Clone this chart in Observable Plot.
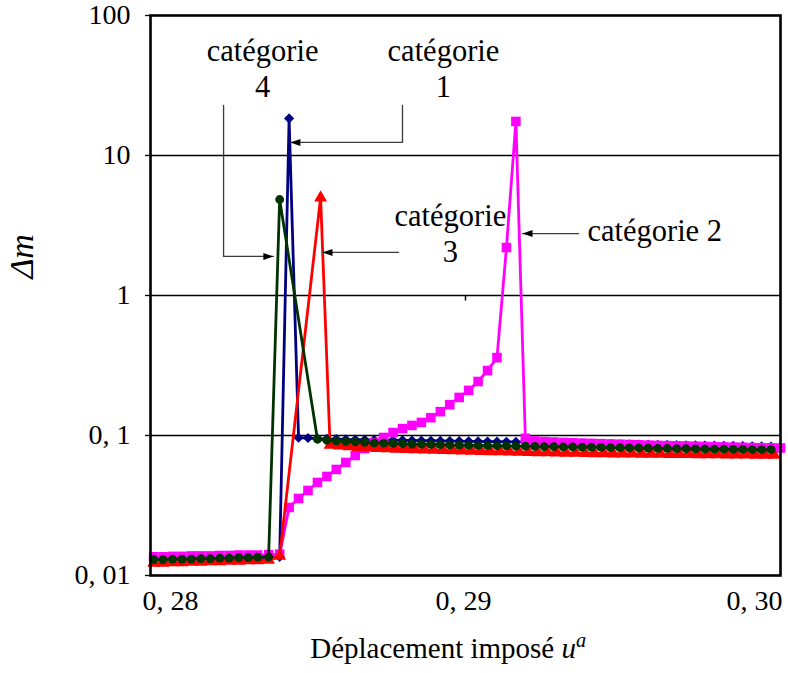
<!DOCTYPE html>
<html><head><meta charset="utf-8">
<script src="https://cdn.jsdelivr.net/npm/d3@7"></script>
<script src="https://cdn.jsdelivr.net/npm/@observablehq/plot@0.6"></script>
<style>
body{margin:0;background:#fff}
svg{display:block}
svg text{font-family:"Liberation Serif","DejaVu Serif",serif !important;}
</style>
</head><body><div id="chart"></div>
<script>
// ---------- axis ticks ----------
const yTicks = [0.01, 0.1, 1, 10, 100];
const yTickLabels = ["0, 01", "0, 1", "1", "10", "100"];
const gridValues = [0.1, 1, 10];
const xTicks = [0.28, 0.29, 0.30];
const xTickLabels = ["0, 28", "0, 29", "0, 30"];
const xAxisCrossTicks = [0.29];

// ---------- shared x positions ----------
const uLow = [0.2801,0.2804,0.2807,0.2810,0.2813,0.2816,0.2819,0.2822,0.2825,0.2828,0.2831,0.2834];
const uTail = [0.2856,0.2859,0.2862,0.2865,0.2868,0.2871,0.2874,0.2877,0.2880,0.2883,
  0.2886,0.2889,0.2892,0.2895,0.2898,0.2901,0.2904,0.2907,0.2910,0.2913,
  0.2916,0.2919,0.2922,0.2925,0.2928,0.2931,0.2934,0.2937,0.2940,0.2943,
  0.2946,0.2949,0.2952,0.2955,0.2958,0.2961,0.2964,0.2967,0.2970,0.2973,
  0.2976,0.2979,0.2982,0.2985,0.2988,0.2991,0.2994,0.2997];

// ---------- catégorie 1 (bleu) ----------
const cat1MidX = [0.28375, 0.2841, 0.2844, 0.2847, 0.2850, 0.2853];
const cat1LowY = [0.0131,0.0131,0.0131,0.0132,0.0132,0.0132,0.0133,0.0133,0.0133,0.0134,0.0134,0.0134];
const cat1MidY = [0.0135, 0.0136, 18.4, 0.0965, 0.096, 0.095];
const cat1TailY = [0.0945,0.0941,0.0937,0.0934,0.0931,0.0929,0.0927,0.0925,0.0923,0.0921,
  0.0919,0.0917,0.0915,0.0913,0.0911,0.0909,0.0907,0.0905,0.0903,0.0901,
  0.0899,0.0896,0.0893,0.0890,0.0887,0.0884,0.0881,0.0878,0.0875,0.0872,
  0.0869,0.0866,0.0864,0.0862,0.0860,0.0858,0.0856,0.0854,0.0852,0.0850,
  0.0848,0.0846,0.0844,0.0842,0.0840,0.0838,0.0836,0.0834];

// ---------- catégorie 2 (magenta) ----------
const cat2MidX = [0.28375, 0.2841];
const cat2RiseX = [0.2844,0.2847,0.2850,0.2853,0.2856,0.2859,0.2862,0.2865,0.2868,0.2871,
  0.2874,0.2877,0.2880,0.2883,0.2886,0.2889,0.2892,0.2895,0.2898,0.2901,
  0.2904,0.2907,0.2910,0.2913,0.2916];
const cat2TailX = [0.2919,0.2922,0.2925,0.2928,0.2931,0.2934,0.2937,0.2940,0.2943,0.2946,
  0.2949,0.2952,0.2955,0.2958,0.2961,0.2964,0.2967,0.2970,0.2973,0.2976,
  0.2979,0.2982,0.2985,0.2988,0.2991,0.2994,0.2997,0.3000];
const cat2LowY = [0.0136,0.0136,0.0137,0.0137,0.0138,0.0138,0.0138,0.0139,0.0139,0.0140,0.0140,0.0140];
const cat2MidY = [0.0141, 0.0142];
const cat2RiseY = [0.0306,0.0355,0.0405,0.0462,0.0510,0.0572,0.0642,0.0720,0.0807,0.0891,
  0.0968,0.105,0.112,0.118,0.124,0.134,0.148,0.166,0.187,0.21,
  0.243,0.291,0.36,2.2,17.5];
const cat2TailY = [0.0955,0.0915,0.0905,0.0898,0.0892,0.0887,0.0882,0.0878,0.0874,0.0870,
  0.0866,0.0862,0.0858,0.0854,0.0850,0.0847,0.0844,0.0841,0.0838,0.0835,
  0.0832,0.0829,0.0826,0.0823,0.0820,0.0818,0.0816,0.0814];

// ---------- catégorie 3 (rouge) ----------
const cat3MidX = [0.28375, 0.2841, 0.2854];
const cat3TailX = [0.2857,0.2860,0.2863,0.2866,0.2869,0.2872,0.2875,0.2878,0.2881,0.2884,
  0.2887,0.2890,0.2893,0.2896,0.2899,0.2902,0.2905,0.2908,0.2911,0.2914,
  0.2917,0.2920,0.2923,0.2926,0.2929,0.2932,0.2935,0.2938,0.2941,0.2944,
  0.2947,0.2950,0.2953,0.2956,0.2959,0.2962,0.2965,0.2968,0.2971,0.2974,
  0.2977,0.2980,0.2983,0.2986,0.2989,0.2992,0.2995,0.2998];
const cat3LowY = [0.0123,0.0123,0.0124,0.0124,0.0125,0.0125,0.0126,0.0126,0.0127,0.0127,0.0128,0.0128];
const cat3MidY = [0.0129, 0.0138, 5.0];
const cat3TailY = [0.0855,0.0843,0.0833,0.0825,0.0818,0.0812,0.0807,0.0802,0.0798,0.0794,
  0.0790,0.0787,0.0784,0.0781,0.0778,0.0775,0.0772,0.0769,0.0767,0.0764,
  0.0762,0.0759,0.0757,0.0755,0.0753,0.0751,0.0749,0.0747,0.0745,0.0744,
  0.0742,0.0741,0.0739,0.0738,0.0737,0.0736,0.0735,0.0734,0.0733,0.0732,
  0.0731,0.0730,0.0729,0.0728,0.0727,0.0726,0.0725,0.0724];

// ---------- catégorie 4 (vert foncé) ----------
const cat4MidX = [0.28375, 0.2841, 0.2853];
const cat4LowY = [0.0130,0.0130,0.0131,0.0131,0.0131,0.0132,0.0132,0.0133,0.0133,0.0134,0.0134,0.0135];
const cat4MidY = [0.0136, 4.85, 0.094];
const cat4TailY = [0.0925,0.0915,0.0908,0.0900,0.0893,0.0887,0.0882,0.0877,0.0873,0.0869,
  0.0866,0.0863,0.0860,0.0857,0.0855,0.0852,0.0850,0.0847,0.0845,0.0843,
  0.0841,0.0839,0.0836,0.0834,0.0832,0.0830,0.0828,0.0826,0.0824,0.0822,
  0.0820,0.0818,0.0816,0.0814,0.0812,0.0810,0.0808,0.0806,0.0805,0.0803,
  0.0801,0.0800,0.0798,0.0797,0.0795,0.0794,0.0793,0.0792];

// ---------- annotations ----------
const annotLabels = [
  {text: "catégorie\n4", x: 0.28356, y: 42.3},
  {text: "catégorie\n1", x: 0.2893, y: 42.3},
  {text: "catégorie\n3", x: 0.28952, y: 2.8}
];
const annotSingle = [{text: "catégorie 2", x: 0.29387, y: 2.89}];
const leaderCat4 = [[0.28232, 22.8], [0.28232, 1.90], [0.2839, 1.90]];
const leaderCat1 = [[0.2880, 22.8], [0.2880, 12.39], [0.28444, 12.39]];
const leaderCat3 = [[0.28787, 2.03], [0.28546, 2.03]];
const leaderCat2 = [[0.29359, 2.77], [0.29181, 2.77]];
const tipsLeft = [[0.28444, 12.39], [0.28546, 2.03], [0.29181, 2.77]];
const tipsRight = [[0.2839, 1.90]];
const yLabel = [{text: "Δm", y: 1.32}];
const xLabel = [{text: "Déplacement imposé ua", x: 0.28945}];

// ---------- build rows ----------
const rows = (xs, ys) => xs.map((x, i) => ({x, y: ys[i]}));
const cat1 = rows([...uLow, ...cat1MidX, ...uTail], [...cat1LowY, ...cat1MidY, ...cat1TailY]);
const cat2 = rows([...uLow, ...cat2MidX, ...cat2RiseX, ...cat2TailX], [...cat2LowY, ...cat2MidY, ...cat2RiseY, ...cat2TailY]);
const cat3 = rows([...uLow, ...cat3MidX, ...cat3TailX], [...cat3LowY, ...cat3MidY, ...cat3TailY]);
const cat4 = rows([...uLow, ...cat4MidX, ...uTail], [...cat4LowY, ...cat4MidY, ...cat4TailY]);

const arrowLeft = {draw(ctx) { ctx.moveTo(0, 0); ctx.lineTo(10, -3.5); ctx.lineTo(10, 3.5); ctx.closePath(); }};
const arrowRight = {draw(ctx) { ctx.moveTo(0, 0); ctx.lineTo(-10, -3.5); ctx.lineTo(-10, 3.5); ctx.closePath(); }};
const tickDown = {draw(ctx) { ctx.moveTo(0, 0); ctx.lineTo(0, 5); }};

const FONT = "Liberation Serif";
const series = (data, color, symbol, r) => [
  Plot.line(data, {x: "x", y: "y", stroke: color, strokeWidth: 2.8, strokeLinejoin: "miter"}),
  Plot.dot(data, {x: "x", y: "y", symbol, r, fill: color, stroke: "none"})
];
const leader = (pts) => Plot.line(pts, {x: d => d[0], y: d => d[1], stroke: "#3a3a3a", strokeWidth: 1.3});
const annFont = 30.5;

const chart = Plot.plot({
  width: 788, height: 673,
  marginLeft: 150, marginRight: 8, marginTop: 15, marginBottom: 98,
  x: {domain: [0.28, 0.30], axis: null},
  y: {type: "log", domain: [0.01, 100]},
  style: {fontFamily: FONT, fontSize: "28px", color: "black", background: "white"},
  marks: [
    Plot.ruleY(gridValues, {stroke: "black", strokeWidth: 1.6}),
    Plot.dot(xAxisCrossTicks, {x: d => d, y: () => 1, symbol: tickDown, stroke: "black", fill: "none", strokeWidth: 1.5}),
    ...series(cat1, "#000080", "diamond2", 4.6),
    ...series(cat2, "#ff00ff", "square", 5.4),
    ...series(cat3, "#ff0000", "triangle", 4.8),
    ...series(cat4, "#003300", "circle", 4.4),
    Plot.frame({stroke: "black", strokeWidth: 2.6}),
    Plot.axisY({ticks: yTicks, tickFormat: d => yTickLabels[yTicks.indexOf(d)], tickSize: 5, tickPadding: 15, fontSize: 28, fontFamily: FONT, label: null, strokeWidth: 1.3}),
    Plot.text([xTicks[0]], {x: d => d, frameAnchor: "bottom", text: () => xTickLabels[0], textAnchor: "start", dx: -8, dy: 34, fontSize: 28, fontFamily: FONT}),
    Plot.text([xTicks[1]], {x: d => d, frameAnchor: "bottom", text: () => xTickLabels[1], textAnchor: "middle", dx: -2, dy: 34, fontSize: 28, fontFamily: FONT}),
    Plot.text([xTicks[2]], {x: d => d, frameAnchor: "bottom", text: () => xTickLabels[2], textAnchor: "end", dx: 2, dy: 34, fontSize: 28, fontFamily: FONT}),
    Plot.text(yLabel, {y: "y", text: "text", frameAnchor: "left", dx: -128, rotate: -90, fontStyle: "italic", fontSize: 34, fontFamily: FONT}),
    Plot.text(xLabel, {x: "x", text: "text", frameAnchor: "bottom", textAnchor: "middle", dy: 82, fontSize: 29, fontFamily: FONT}),
    leader(leaderCat4), leader(leaderCat1), leader(leaderCat3), leader(leaderCat2),
    Plot.dot(tipsLeft, {x: d => d[0], y: d => d[1], symbol: arrowLeft, fill: "black", stroke: "none"}),
    Plot.dot(tipsRight, {x: d => d[0], y: d => d[1], symbol: arrowRight, fill: "black", stroke: "none"}),
    Plot.text(annotLabels, {x: "x", y: "y", text: "text", fontSize: annFont, lineHeight: 1.18, textAnchor: "middle", fontFamily: FONT}),
    Plot.text(annotSingle, {x: "x", y: "y", text: "text", fontSize: annFont, textAnchor: "start", fontFamily: FONT})
  ]
});
document.getElementById("chart").appendChild(chart);

// italic u with superscript a in the x-axis title
d3.select(chart).selectAll("text").filter(function() { return this.textContent === "Déplacement imposé ua"; })
  .each(function() {
    const t = d3.select(this);
    t.text(null);
    t.append("tspan").text("Déplacement imposé ");
    t.append("tspan").attr("font-style", "italic").text("u");
    t.append("tspan").attr("font-style", "italic").attr("font-size", "0.7em").attr("dy", "-0.5em").text("a");
  });
</script></body></html>
